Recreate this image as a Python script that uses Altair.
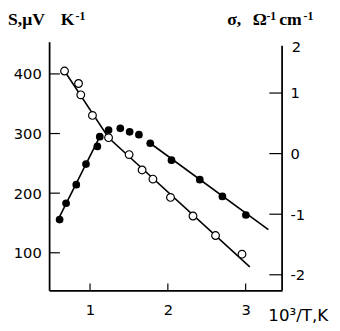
import altair as alt
import pandas as pd

# ---- data ----
open_x = [0.672, 0.852, 0.881, 1.031, 1.238, 1.502, 1.669, 1.808, 2.034, 2.323, 2.613, 2.953]
open_S = [404.8, 383.9, 364.9, 330.4, 293.1, 264.7, 238.9, 223.6, 192.9, 161.7, 128.9, 97.7]

open_line_x = [0.672, 1.238, 3.053]
open_line_S = [404.8, 293.0, 76.4]

fill_x = [0.609, 0.692, 0.823, 0.948, 1.094, 1.125, 1.238, 1.389, 1.509, 1.628, 1.774, 2.047, 2.411, 2.701, 3.003]
fill_sig = [-1.089, -0.819, -0.512, -0.173, 0.118, 0.279, 0.388, 0.417, 0.360, 0.312, 0.171, -0.108, -0.431, -0.706, -1.013]

fill_line_x = [0.575, 1.125, 1.774, 3.292]
fill_line_sig = [-1.126, 0.279, 0.171, -1.255]
fill_line_seg = ["rise", "rise", "fall", "fall"]

x_ticks = [1, 2, 3]
S_ticks = [100, 200, 300, 400]
sig_ticks = [-2, -1, 0, 1]

# ---- layout ----
W, H = 238, 254
SANS = "DejaVu Sans"
SERIF = "Liberation Serif"

X = alt.X("x:Q", scale=alt.Scale(domain=[0.474, 3.468], nice=False, zero=False),
          axis=alt.Axis(values=x_ticks, ticks=False, grid=False, domainColor="black",
                        domainWidth=1.8, labelFont=SANS, labelFontSize=15, labelColor="black",
                        labelPadding=13, title=None))
YL = alt.Y("S:Q", scale=alt.Scale(domain=[37, 454], nice=False, zero=False),
           axis=alt.Axis(values=S_ticks, orient="left", ticks=False, grid=False, domainColor="black",
                         domainWidth=1.8, labelFont=SANS, labelFontSize=15, labelColor="black",
                         labelPadding=8, title=None))
YR = alt.Y("sig:Q", scale=alt.Scale(domain=[-2.257, 1.847], nice=False, zero=False),
           axis=alt.Axis(values=sig_ticks, orient="right", ticks=False, grid=False, domain=False,
                         labelFont=SANS, labelFontSize=15, labelColor="black",
                         labelExpr="'' + datum.value", labelPadding=8, title=None))

one = pd.DataFrame({"k": [0]})


def txt(s, x, y, size=18, font=SERIF, weight="bold", align="left", baseline="alphabetic"):
    return alt.Chart(pd.DataFrame({"t": [s]})).mark_text(
        font=font, fontSize=size, fontWeight=weight, align=align, baseline=baseline, color="black"
    ).encode(text="t:N", x=alt.value(x), y=alt.value(y))


df_open = pd.DataFrame({"x": open_x, "S": open_S})
df_open_line = pd.DataFrame({"x": open_line_x, "S": open_line_S})
df_fill = pd.DataFrame({"x": fill_x, "sig": fill_sig})
df_fill_line = pd.DataFrame({"x": fill_line_x, "sig": fill_line_sig, "seg": fill_line_seg})

open_line = alt.Chart(df_open_line).mark_line(color="black", strokeWidth=1.6).encode(x=X, y=YL)
open_pts = alt.Chart(df_open).mark_point(shape="circle", filled=True, fill="white", stroke="black",
                                         strokeWidth=1.2, size=62, opacity=1).encode(x=X, y=YL)
left_ticks = alt.Chart(pd.DataFrame({"S": S_ticks})).mark_rule(color="black", strokeWidth=1.2).encode(
    y=YL, x=alt.value(0), x2=alt.value(11))
bottom_ticks = alt.Chart(pd.DataFrame({"x": x_ticks})).mark_rule(color="black", strokeWidth=1.2).encode(
    x=X, y=alt.value(H), y2=alt.value(H - 7))

left_group = alt.layer(
    open_line, open_pts, left_ticks, bottom_ticks,
    txt("S,\u03bcV", -42, -17), txt("K", 12, -17),
    txt("-1", 27, -22, size=12),
)

fill_line = alt.Chart(df_fill_line).mark_line(color="black", strokeWidth=1.6).encode(
    x=X, y=YR, detail="seg:N")
fill_pts = alt.Chart(df_fill).mark_circle(color="black", size=62, opacity=1).encode(x=X, y=YR)
right_ticks = alt.Chart(pd.DataFrame({"sig": sig_ticks})).mark_rule(color="black", strokeWidth=1.2).encode(
    y=YR, x=alt.value(W - 13), x2=alt.value(W))
right_domain = alt.Chart(one).mark_rule(color="black", strokeWidth=1.8).encode(
    x=alt.value(W), y=alt.value(4), y2=alt.value(H))

right_group = alt.layer(
    fill_line, fill_pts, right_ticks, right_domain,
    txt("2", W + 10, 6, size=15, font=SANS, weight="normal", baseline="middle"),
    txt("\u03c3,", 182, -17), txt("\u03a9", 208, -17), txt("-1", 222, -22, size=12),
    txt("cm", 235, -17), txt("-1", 260, -22, size=12),
    txt("10\u00b3/T,K", 224, 32 + H - 1, size=17, font=SANS, weight="normal"),
)

chart = alt.layer(left_group, right_group).resolve_scale(y="independent").properties(
    width=W, height=H,
    autosize=alt.AutoSizeParams(type="none"),
    padding={"left": 42, "top": 31, "right": 51, "bottom": 34},
).configure_view(stroke=None)

chart.save("out.html", embed_options={"renderer": "svg", "actions": False})
